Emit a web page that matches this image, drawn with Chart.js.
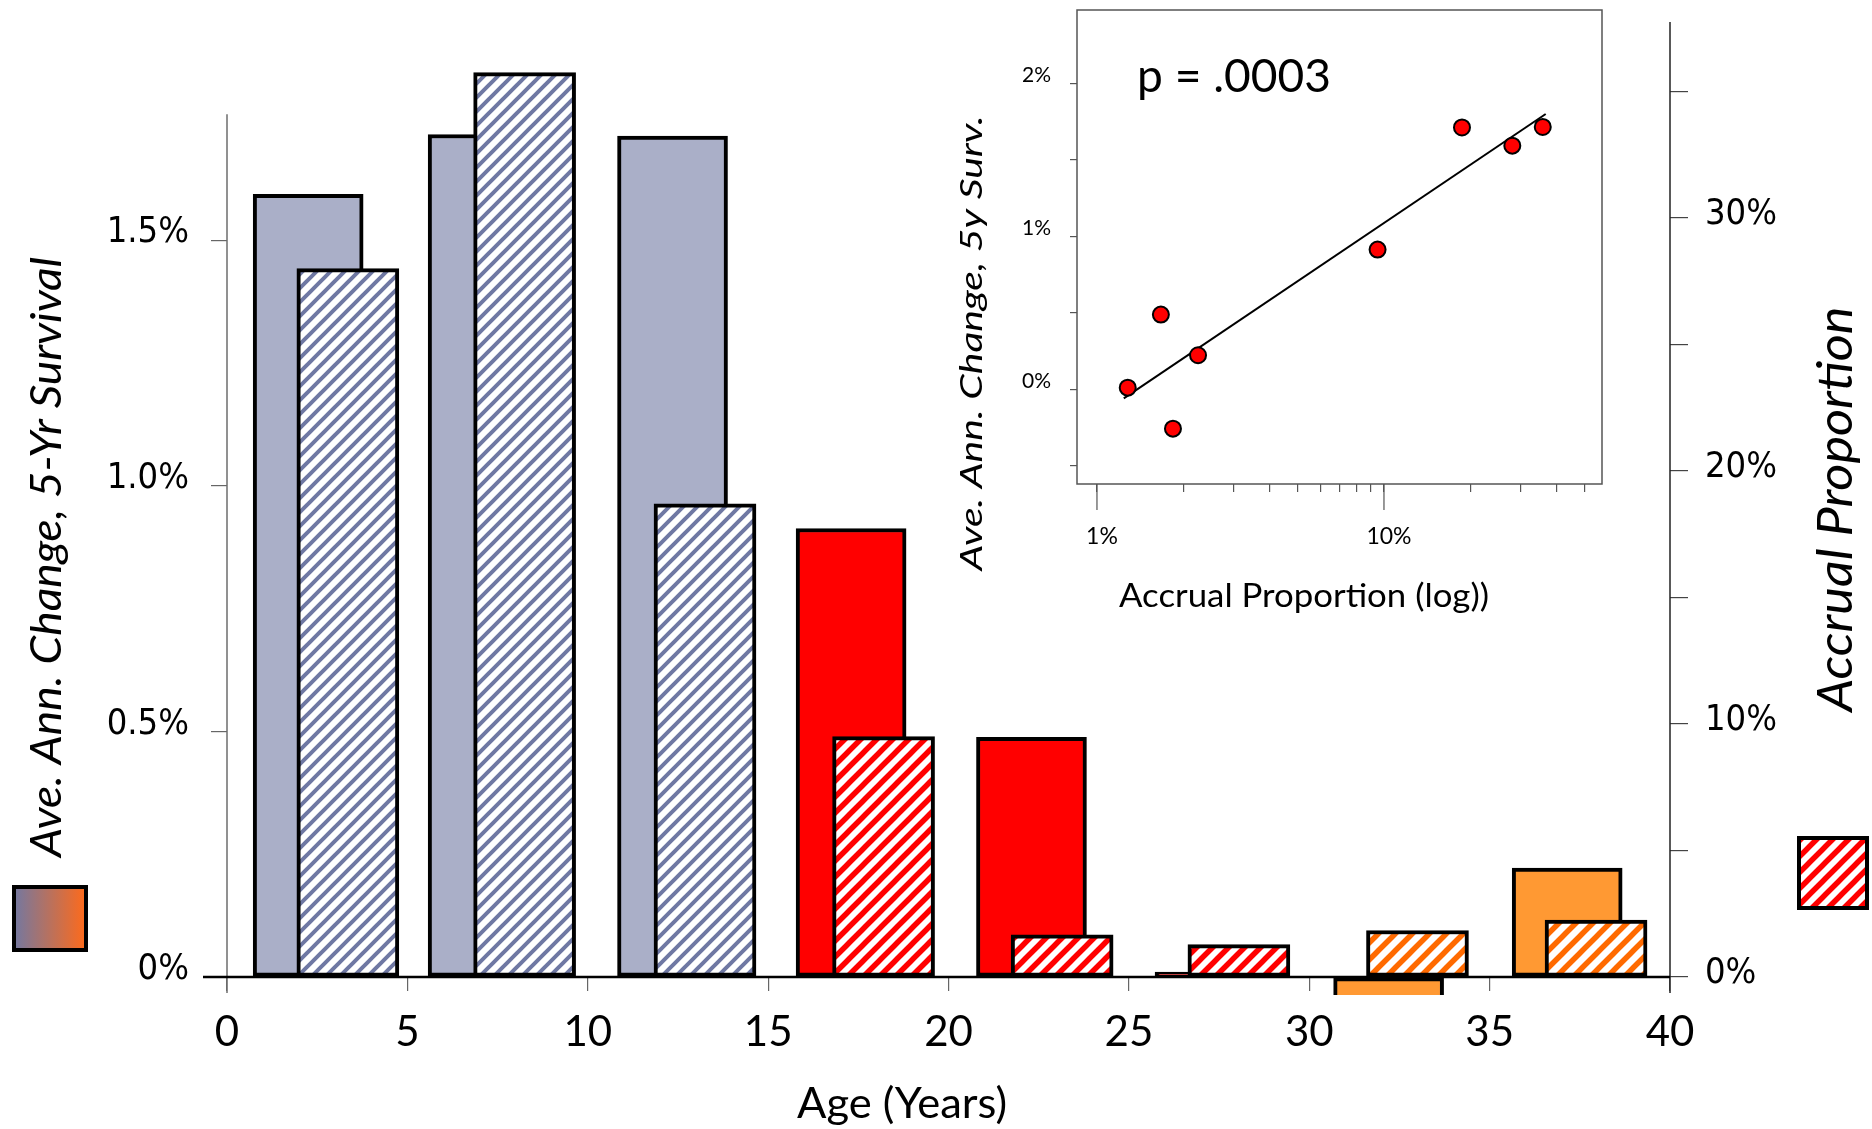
<!DOCTYPE html>
<html>
<head>
<meta charset="utf-8">
<script src="https://cdn.jsdelivr.net/npm/chart.js@4.4.1/dist/chart.umd.min.js"></script>
<style>
  html, body { margin: 0; padding: 0; background: #fff; }
  #wrap { position: relative; width: 1872px; height: 1129px; }
  #main { position: absolute; left: 0; top: 0; }
  #inset { position: absolute; left: 930px; top: 0; }
</style>
</head>
<body>
<div id="wrap">
  <canvas id="main" width="1872" height="1129"></canvas>
  <canvas id="inset" width="700" height="640"></canvas>
</div>
<script>
// values, one entry per 5-year age group
const survAge      = [2.25, 7.1, 12.35, 17.3, 22.3, 27.25, 32.2, 37.15];   // x of the solid bars (years)
const accrualAge   = [3.35, 8.25, 13.25, 18.2, 23.15, 28.05, 33.0, 37.95]; // x of the hatched bars (years)
const survChange   = [1.593, 1.715, 1.712, 0.913, 0.488, 0.01, -0.258, 0.222]; // ave. annual change, %
const accrualPct   = [28.0, 35.75, 18.7, 9.5, 1.67, 1.28, 1.84, 2.25];         // accrual proportion, %
const groupBand    = ['blue', 'blue', 'blue', 'red', 'red', 'red', 'orange', 'orange'];

const ageTicks     = [0, 5, 10, 15, 20, 25, 30, 35, 40];
const survTicks    = [0, 0.5, 1.0, 1.5];
const accrualTicks = [0, 5, 10, 15, 20, 25, 30, 35];

// inset: regression of change on log accrual
const insetXTicks  = [1, 2, 3, 4, 5, 6, 7, 8, 9, 10, 20, 30, 40, 50];
const insetYTicks  = [-0.5, 0, 0.5, 1, 1.5, 2];
const fitX         = [1.24, 36.6];
const fitY         = [-0.06, 1.80];
const pValueText   = 'p = .0003';

const solidColor = { blue: '#AAAFC8', red: '#FF0000', orange: '#FF9933' };
const tickFont = '"DejaVu Sans Condensed", "DejaVu Sans", sans-serif';

function makeHatch(color, step, lw) {
    const c = document.createElement('canvas');
    c.width = c.height = step;
    const g = c.getContext('2d');
    g.fillStyle = '#fff';
    g.fillRect(0, 0, step, step);
    g.strokeStyle = color;
    g.lineWidth = lw;
    g.beginPath();
    // run each diagonal past the tile edges so the tiles join cleanly
    for (const o of [-step, 0, step]) {
        g.moveTo(o - 4, step + 4);
        g.lineTo(o + step + 4, -4);
    }
    g.stroke();
    return g.createPattern(c, 'repeat');
}

const hatchFill = {
    blue: makeHatch('#6F78A3', 14, 4),
    red: makeHatch('#FF0000', 16, 5.5),
    orange: makeHatch('#FF6A00', 17, 5.5)
};

// text squeezed to the width it has in the figure
function fitText(ctx, text, x, y, font, width, angle) {
    ctx.save();
    ctx.font = font;
    const w = ctx.measureText(text).width;
    ctx.translate(x, y);
    ctx.rotate(angle || 0);
    ctx.scale(width / w, 1);
    ctx.textAlign = 'center';
    ctx.textBaseline = 'alphabetic';
    ctx.fillStyle = '#000';
    ctx.fillText(text, 0, 0);
    ctx.restore();
}

// keep the plot area exactly where the layout padding puts it
function noEdgePadding(s) {
    s.paddingTop = 0;
    s.paddingBottom = 0;
}

const mainDecor = {
    id: 'mainDecor',
    beforeDatasetsDraw(chart) {
        const { ctx, chartArea: a, scales: { yL } } = chart;
        const y0 = yL.getPixelForValue(0);
        ctx.save();
        ctx.lineWidth = 1.5;
        ctx.strokeStyle = '#6d6d6d';
        ctx.beginPath();
        ctx.moveTo(a.left, yL.getPixelForValue(1.756));
        ctx.lineTo(a.left, a.bottom - 2);
        ctx.stroke();
        ctx.strokeStyle = '#222';
        ctx.beginPath();
        ctx.moveTo(a.right, a.top);
        ctx.lineTo(a.right, a.bottom - 2);
        ctx.stroke();
        // zero line
        ctx.strokeStyle = '#000';
        ctx.lineWidth = 2.5;
        ctx.beginPath();
        ctx.moveTo(a.left - 24, y0);
        ctx.lineTo(a.right, y0);
        ctx.stroke();
        ctx.restore();
    },
    afterDraw(chart) {
        const ctx = chart.ctx;
        fitText(ctx, 'Ave. Ann. Change, 5-Yr Survival', 61, 557, 'italic 43px Lato', 600, -Math.PI / 2);
        fitText(ctx, 'Accrual Proportion', 1852, 509, 'italic 49px Lato', 405, -Math.PI / 2);
        fitText(ctx, 'Age (Years)', 902, 1118, '42px Lato', 210, 0);

        // legend swatches
        ctx.save();
        const grad = ctx.createLinearGradient(14, 0, 86, 0);
        grad.addColorStop(0, '#7378A1');
        grad.addColorStop(1, '#FF6A1A');
        ctx.fillStyle = grad;
        ctx.fillRect(14, 887, 72, 63);
        ctx.lineWidth = 4;
        ctx.strokeStyle = '#000';
        ctx.strokeRect(14, 887, 72, 63);
        ctx.fillStyle = hatchFill.red;
        ctx.fillRect(1799, 838, 68, 70);
        ctx.strokeRect(1799, 838, 68, 70);
        ctx.restore();
    }
};

new Chart(document.getElementById('main'), {
    type: 'bar',
    data: {
        datasets: [
            {
                label: 'Accrual Proportion',
                yAxisID: 'yR',
                data: accrualAge.map((x, i) => ({ x, y: accrualPct[i] })),
                backgroundColor: accrualPct.map((_, i) => hatchFill[groupBand[i]]),
                borderColor: '#000',
                borderWidth: 4,
                borderSkipped: false,
                barThickness: 102,
                grouped: false,
                order: 1,
                clip: 0
            },
            {
                label: 'Ave. Ann. Change, 5-Yr Survival',
                yAxisID: 'yL',
                data: survAge.map((x, i) => ({ x, y: survChange[i] })),
                backgroundColor: survChange.map((_, i) => solidColor[groupBand[i]]),
                borderColor: '#000',
                borderWidth: 4,
                borderSkipped: false,
                barThickness: 110,
                grouped: false,
                order: 2,
                clip: 0
            }
        ]
    },
    options: {
        responsive: false,
        animation: false,
        devicePixelRatio: 1,
        events: [],
        layout: { padding: { top: 22, bottom: 134, left: 0, right: 0 } },
        plugins: { legend: { display: false }, tooltip: { enabled: false } },
        scales: {
            x: {
                type: 'linear',
                min: 0,
                max: 40,
                offset: false,
                position: { yL: 0 },
                border: { display: false },
                grid: { offset: false, drawOnChartArea: false, tickLength: 14, color: '#666', lineWidth: 1.2 },
                afterBuildTicks: s => { s.ticks = ageTicks.map(v => ({ value: v })); },
                ticks: { padding: 16, autoSkip: false, maxRotation: 0, color: '#000', font: { family: 'Lato', size: 42 } }
            },
            yL: {
                axis: 'y',
                type: 'linear',
                position: 'left',
                min: -0.0366,
                max: 1.944,
                border: { display: false },
                grid: { drawOnChartArea: false, tickLength: 16, color: '#666', lineWidth: 1.2 },
                afterFit: s => { s.width = 227; noEdgePadding(s); },
                afterBuildTicks: s => { s.ticks = survTicks.map(v => ({ value: v })); },
                ticks: {
                    padding: 22,
                    labelOffset: -7,
                    color: '#000',
                    font: { family: tickFont, size: 36 },
                    callback: v => (v === 0 ? '0%' : v.toFixed(1) + '%')
                }
            },
            yR: {
                axis: 'y',
                type: 'linear',
                position: 'right',
                min: -0.711,
                max: 37.75,
                border: { display: false },
                grid: { drawOnChartArea: false, tickLength: 18, color: '#444', lineWidth: 1.2 },
                afterFit: s => { s.width = 202; noEdgePadding(s); },
                afterBuildTicks: s => { s.ticks = accrualTicks.map(v => ({ value: v })); },
                ticks: {
                    padding: 17,
                    labelOffset: -3,
                    color: '#000',
                    font: { family: tickFont, size: 36 },
                    callback: v => (v % 10 === 0 ? v + '%' : '')
                }
            }
        }
    },
    plugins: [mainDecor]
});

const insetDecor = {
    id: 'insetDecor',
    afterDraw(chart) {
        const { ctx, chartArea: a, scales: { x } } = chart;
        ctx.save();
        ctx.strokeStyle = '#555';
        ctx.lineWidth = 1.5;
        ctx.strokeRect(a.left, a.top, a.width, a.height);
        // longer marks at the decades
        ctx.lineWidth = 1.2;
        for (const v of [1, 10]) {
            const px = x.getPixelForValue(v);
            ctx.beginPath();
            ctx.moveTo(px, a.bottom);
            ctx.lineTo(px, a.bottom + 26);
            ctx.stroke();
        }
        ctx.restore();
        fitText(ctx, pValueText, 304, 92, '46px Lato', 194, 0);
        fitText(ctx, 'Accrual Proportion (log))', 374, 607, '32px Lato', 370, 0);
        fitText(ctx, 'Ave. Ann. Change, 5y Surv.', 52, 343, 'italic 31px Lato', 455, -Math.PI / 2);
    }
};

new Chart(document.getElementById('inset'), {
    type: 'scatter',
    data: {
        datasets: [
            {
                type: 'line',
                data: fitX.map((x, i) => ({ x, y: fitY[i] })),
                borderColor: '#000',
                borderWidth: 2,
                pointRadius: 0,
                order: 2
            },
            {
                data: accrualPct.map((x, i) => ({ x, y: survChange[i] })),
                backgroundColor: '#FF0000',
                borderColor: '#000',
                borderWidth: 2,
                pointRadius: 8,
                order: 1
            }
        ]
    },
    options: {
        responsive: false,
        animation: false,
        devicePixelRatio: 1,
        events: [],
        layout: { padding: { top: 0, right: 28, left: 0, bottom: 0 } },
        plugins: { legend: { display: false }, tooltip: { enabled: false } },
        scales: {
            x: {
                type: 'logarithmic',
                min: 0.852,
                max: 57.5,
                border: { display: false },
                grid: { drawOnChartArea: false, tickLength: 8, color: '#555', lineWidth: 1.2 },
                afterFit: s => { s.height = 156; noEdgePadding(s); },
                afterBuildTicks: s => { s.ticks = insetXTicks.map(v => ({ value: v })); },
                ticks: {
                    autoSkip: false,
                    maxRotation: 0,
                    padding: 31,
                    labelOffset: 5,
                    color: '#000',
                    font: { family: 'Lato', size: 23 },
                    callback: v => (v === 1 || v === 10 ? v + '%' : '')
                }
            },
            y: {
                min: -0.62,
                max: 2.48,
                border: { display: false },
                grid: { drawOnChartArea: false, tickLength: 7, color: '#555', lineWidth: 1.2 },
                afterFit: s => { s.width = 147; noEdgePadding(s); },
                afterBuildTicks: s => { s.ticks = insetYTicks.map(v => ({ value: v })); },
                ticks: {
                    padding: 19,
                    labelOffset: -8,
                    color: '#000',
                    font: { family: 'Lato', size: 21 },
                    callback: v => (Number.isInteger(v) ? v + '%' : '')
                }
            }
        }
    },
    plugins: [insetDecor]
});
</script>
</body>
</html>
